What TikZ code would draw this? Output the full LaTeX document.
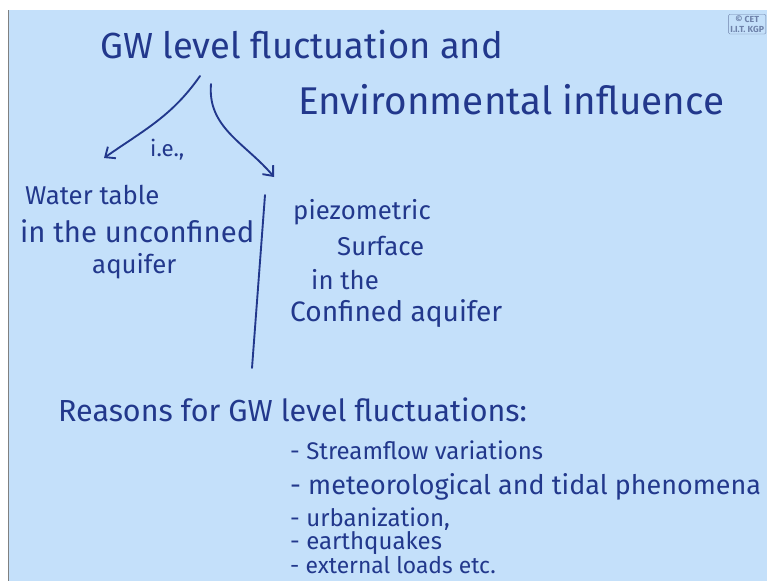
\documentclass[tikz,border=0pt]{standalone}
\usepackage{fontspec}
\setmainfont{Fira Sans}
\usetikzlibrary{arrows.meta}
\definecolor{board}{RGB}{196,224,250}
\definecolor{ink}{RGB}{34,56,140}
\definecolor{logo}{RGB}{110,130,170}
\tikzstyle{hand} = [text=ink, anchor=west, inner sep=0pt, font=\fontsize{31}{36}\selectfont]
\tikzstyle{small} = [text=ink, anchor=west, inner sep=0pt, font=\fontsize{22}{26}\selectfont]
\tikzstyle{item} = [text=ink, anchor=west, inner sep=0pt, font=\fontsize{20.5}{24}\selectfont]
\tikzstyle{stroke} = [draw=ink, line width=1.6pt, line cap=round]
\tikzstyle{branch} = [stroke, -{Straight Barb[length=7pt,width=12pt]}]

\begin{document}
\begin{tikzpicture}[x=0.03cm, y=-0.03cm]
		% whiteboard
		\fill[white] (0,0) rectangle (767,581);
		\fill[board] (8,10) rectangle (767,581);
		\draw[gray, line width=1.2pt] (8.5,10) -- (8.5,581);
		\useasboundingbox (0,0) rectangle (767,581);

		% logo
		\node [draw=logo, rounded corners=1pt, inner sep=1.5pt, text=logo, align=center,
		       font=\fontsize{7.5}{8}\selectfont\bfseries, anchor=north east] (cet) at (766,14) {\textcopyright\ CET\\I.I.T. KGP};

		% heading
		\node [hand] (title) at (100,45) {GW level fluctuation and};
		\node [hand, font=\fontsize{33}{38}\selectfont] (env) at (298,100) {Environmental influence};

		\coordinate (split1) at (200,76);
		\coordinate (split2) at (211,84);
		\coordinate (tip1) at (104,158);
		\coordinate (tip2) at (274,177);
		\draw [branch] (split1) to[out=235, in=35] (tip1);
		\draw [branch] (split2) to[out=-95, in=130] (tip2);
		\node [small, font=\fontsize{19}{22}\selectfont] (ie) at (150,150) {i.e.,};

		% left branch
		\node [small] (wt1) at (25,195) {Water table};
		\node [small, font=\fontsize{25}{30}\selectfont] (wt2) at (20,231) {in the unconfined};
		\node [small] (wt3) at (92,266) {aquifer};

		% divider
		\coordinate (divtop) at (265,195);
		\coordinate (divbot) at (252,368);
		\draw [stroke] (divtop) -- (divbot);

		% right branch
		\node [small] (pz1) at (293,212) {piezometric};
		\node [small] (pz2) at (337,246) {Surface};
		\node [small] (pz3) at (311,280) {in the};
		\node [small, font=\fontsize{24}{28}\selectfont] (pz4) at (290,314) {Confined aquifer};

		% reasons
		\node [hand, font=\fontsize{26}{30}\selectfont] (reasons) at (58,410) {Reasons for GW level fluctuations:};
		\node [item] (r1) at (290,450) {- Streamflow variations};
		\node [item, font=\fontsize{23}{27}\selectfont] (r2) at (290,487) {- meteorological and tidal phenomena};
		\node [item] (r3) at (290,519) {- urbanization,};
		\node [item] (r4) at (290,543) {- earthquakes};
		\node [item, font=\fontsize{19.5}{23}\selectfont] (r5) at (290,565) {- external loads etc.};
	\end{tikzpicture}
\end{document}
